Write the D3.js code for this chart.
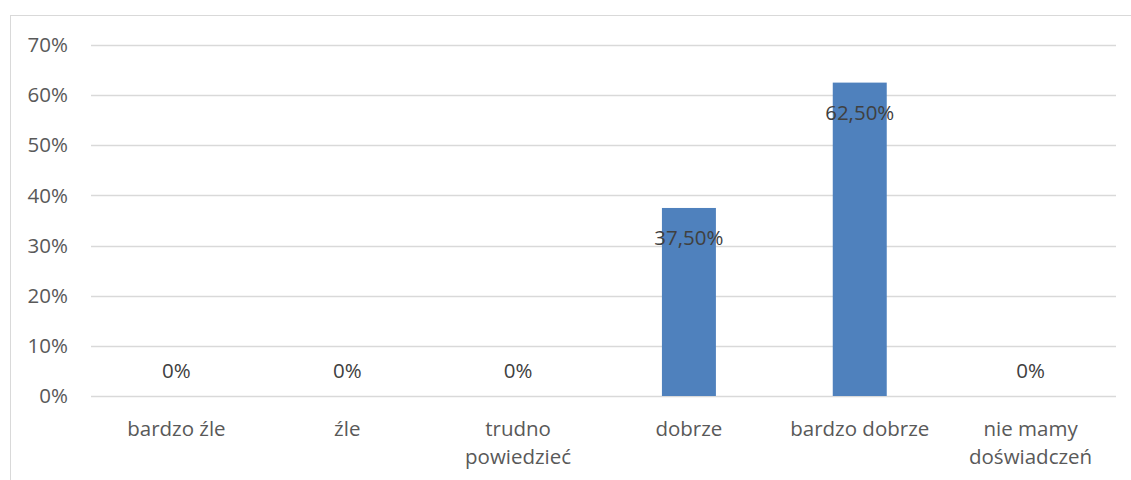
<!DOCTYPE html>
<html>
<head>
<meta charset="utf-8">
<script src="https://cdn.jsdelivr.net/npm/d3@7"></script>
<style>
  html, body { margin: 0; padding: 0; background: #fff; }
  svg { display: block; font-family: "Open Sans", "Noto Sans", sans-serif; }
</style>
</head>
<body>
<div id="chart"></div>
<script>
// Chart data
const categories = ['bardzo źle', 'źle', 'trudno powiedzieć', 'dobrze', 'bardzo dobrze', 'nie mamy doświadczeń'];
const categoryLines = [['bardzo źle'], ['źle'], ['trudno', 'powiedzieć'], ['dobrze'], ['bardzo dobrze'], ['nie mamy', 'doświadczeń']];
const values = [0, 0, 0, 0.375, 0.625, 0];
const valueLabels = ['0%', '0%', '0%', '37,50%', '62,50%', '0%'];
const yTicks = [0, 0.1, 0.2, 0.3, 0.4, 0.5, 0.6, 0.7];

const width = 1131, height = 480;
const margin = { left: 91, right: 15, top: 45, bottom: 84 };
const fontSize = 20.5;

const svg = d3.select('#chart').append('svg')
    .attr('width', width)
    .attr('height', height);

// outer chart frame
svg.append('rect')
    .attr('x', 10.5).attr('y', 15.5)
    .attr('width', 1130).attr('height', 480)
    .attr('fill', 'none')
    .attr('stroke', '#d9d9d9');

const x = d3.scaleBand()
    .domain(categories)
    .range([margin.left, width - margin.right])
    .paddingInner(0.684)
    .paddingOuter(0.342);

const y = d3.scaleLinear()
    .domain([0, 0.7])
    .range([height - margin.bottom, margin.top]);

// gridlines
svg.append('g')
    .selectAll('line')
    .data(yTicks)
    .join('line')
    .attr('x1', margin.left)
    .attr('x2', width - margin.right)
    .attr('y1', d => Math.round(y(d)) + 0.5)
    .attr('y2', d => Math.round(y(d)) + 0.5)
    .attr('stroke', '#d9d9d9')
    .attr('stroke-width', 1.3);

// y axis labels
svg.append('g')
    .selectAll('text')
    .data(yTicks)
    .join('text')
    .attr('x', 68)
    .attr('y', d => y(d))
    .attr('dy', '0.35em')
    .attr('text-anchor', 'end')
    .attr('fill', '#595959')
    .attr('font-size', fontSize)
    .text(d => Math.round(d * 100) + '%');

// bars
svg.append('g')
    .selectAll('rect')
    .data(values)
    .join('rect')
    .attr('x', (d, i) => x(categories[i]))
    .attr('width', x.bandwidth())
    .attr('y', d => y(d))
    .attr('height', d => y(0) - y(d))
    .attr('fill', '#4f81bd');

// data labels
svg.append('g')
    .selectAll('text')
    .data(values)
    .join('text')
    .attr('x', (d, i) => x(categories[i]) + x.bandwidth() / 2)
    .attr('y', d => d > 0 ? y(d) + 30 : y(0) - 25)
    .attr('dy', '0.35em')
    .attr('text-anchor', 'middle')
    .attr('fill', '#404040')
    .attr('font-size', fontSize)
    .text((d, i) => valueLabels[i]);

// category labels
const cat = svg.append('g')
    .selectAll('text')
    .data(categoryLines)
    .join('text')
    .attr('text-anchor', 'middle')
    .attr('fill', '#595959')
    .attr('font-size', fontSize);

cat.each(function(lines, i) {
    const cx = x(categories[i]) + x.bandwidth() / 2;
    d3.select(this).selectAll('tspan')
        .data(lines)
        .join('tspan')
        .attr('x', cx)
        .attr('y', (l, j) => 429 + j * 28)
        .attr('dy', '0.35em')
        .text(l => l);
});
</script>
</body>
</html>
